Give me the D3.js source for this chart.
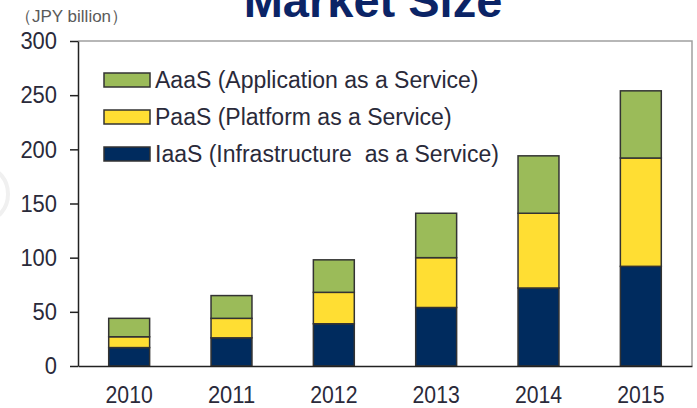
<!DOCTYPE html>
<meta charset="utf-8">
<style>
body { margin: 0; background: #fff; }
svg text { font-family: Arial, "Liberation Sans", sans-serif; }
.tick text { fill: #2a2a3a; }
</style>
<div class="chart"></div>
<script src="https://cdn.jsdelivr.net/npm/d3@7"></script>
<script>

var years = ["2010", "2011", "2012", "2013", "2014", "2015"];
var iaas = [17, 26, 39, 54, 72, 92];
var paas = [10, 18, 29, 46, 69, 100];
var aaas = [17, 21, 30, 41, 53, 62];
var yTicks = [0, 50, 100, 150, 200, 250, 300];
var seriesNames = ["IaaS (Infrastructure  as a Service)", "PaaS (Platform as a Service)", "AaaS (Application as a Service)"];
var seriesColors = ["#002b5e", "#ffde33", "#9bbb59"];

var width = 697, height = 408;
var plotLeft = 78, plotRight = 692, plotTop = 41, plotBottom = 366;
var digitW = 12.2; // tall, narrow digits in the original

var svg = d3.select(".chart").append("svg")
    .attr("width", width)
    .attr("height", height);

// faint cut-off shape at left edge
svg.append("ellipse")
    .attr("cx", -14).attr("cy", 194)
    .attr("rx", 22).attr("ry", 26)
    .attr("fill", "none")
    .attr("stroke", "#f0f0f0")
    .attr("stroke-width", 4);

svg.append("text")
    .attr("x", 373).attr("y", 17)
    .attr("text-anchor", "middle")
    .style("font-size", "47px")
    .style("font-weight", "bold")
    .style("fill", "#0b2466")
    .text("Market Size");

svg.append("text")
    .attr("x", 15).attr("y", 22)
    .style("font-size", "17px")
    .style("fill", "#5a5a5a")
    .text("（JPY billion）");

var table = years.map(function(y, i) {
  return {year: y, s0: iaas[i], s1: paas[i], s2: aaas[i]};
});
var stack = d3.stack().keys(["s0", "s1", "s2"])(table);

var x = d3.scaleBand().domain(years).range([plotLeft, plotRight]).paddingInner(0.6).paddingOuter(0.3);
var y = d3.scaleLinear().domain([0, 300]).range([plotBottom, plotTop]);

// frame: top and right gray
svg.append("path")
    .attr("d", "M" + plotLeft + "," + plotTop + "H" + plotRight + "V" + plotBottom)
    .attr("fill", "none")
    .attr("stroke", "#a0a0a0")
    .attr("stroke-width", 1.5);

svg.append("g").selectAll("g")
    .data(stack)
    .enter().append("g")
    .attr("fill", function(d, i) { return seriesColors[i]; })
    .selectAll("rect")
    .data(function(d) { return d; })
    .enter().append("rect")
    .attr("x", function(d) { return x(d.data.year); })
    .attr("width", x.bandwidth())
    .attr("y", function(d) { return y(d[1]); })
    .attr("height", function(d) { return y(d[0]) - y(d[1]); })
    .attr("stroke", "#333")
    .attr("stroke-width", 1.5);

var yAxis = svg.append("g")
    .attr("transform", "translate(" + plotLeft + ",0)")
    .call(d3.axisLeft(y).tickValues(yTicks).tickSize(8).tickPadding(13).tickSizeOuter(0));
yAxis.selectAll("text")
    .style("font-size", "24px")
    .attr("textLength", function(d) { return String(d).length * digitW; })
    .attr("lengthAdjust", "spacingAndGlyphs");
yAxis.selectAll("line, path").attr("stroke", "#222").attr("stroke-width", 1.5);

var xAxis = svg.append("g")
    .attr("transform", "translate(0," + plotBottom + ")")
    .call(d3.axisBottom(x).tickSize(0).tickPadding(20).tickSizeOuter(0));
xAxis.selectAll("text")
    .style("font-size", "24px")
    .attr("textLength", function(d) { return d.length * 11.8; })
    .attr("lengthAdjust", "spacingAndGlyphs");
xAxis.select("path").attr("stroke", "#222").attr("stroke-width", 1.5);

// legend, top to bottom: AaaS, PaaS, IaaS
var legendOrder = [2, 1, 0];
var lg = svg.append("g").selectAll("g")
    .data(legendOrder)
    .enter().append("g")
    .attr("transform", function(d, i) { return "translate(104," + (73 + i * 37) + ")"; });
lg.append("rect")
    .attr("width", 46).attr("height", 14)
    .attr("fill", function(d) { return seriesColors[d]; })
    .attr("stroke", "#333").attr("stroke-width", 1.5);
lg.append("text")
    .attr("x", 51).attr("y", 15)
    .style("font-size", "23px")
    .style("fill", "#2a2a3a")
    .style("white-space", "pre")
    .text(function(d) { return seriesNames[d]; });

</script>
